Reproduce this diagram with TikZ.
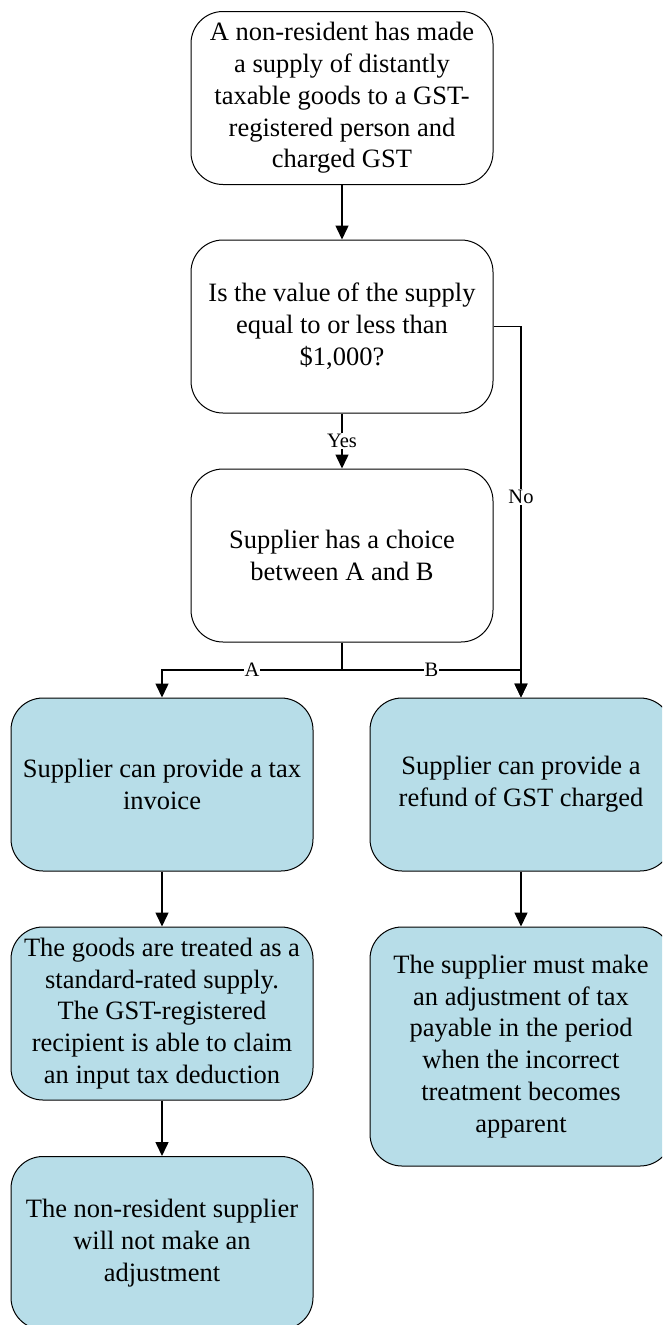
\documentclass[tikz,border=0pt]{standalone}
\usepackage{fontspec}
\setmainfont{Liberation Serif}
\usetikzlibrary{arrows.meta}
\definecolor{boxblue}{HTML}{B7DDE8}
\begin{document}
\begin{tikzpicture}[x=1pt, y=-1pt,
		box/.style={draw, line width=1pt, rounded corners=32pt, minimum width=302pt, minimum height=173pt, inner sep=0pt, align=center, font=\fontsize{26.5}{31.8}\selectfont},
		bluebox/.style={box, fill=boxblue},
		arr/.style={line width=1.5pt, -{Triangle[length=14pt, width=13pt]}},
		lbl/.style={fill=white, inner sep=1pt, font=\fontsize{20.5}{24}\selectfont}]
				\clip (0, 0) rectangle (662, 1325);

				\node[box] (start) at (342, 98) {A non-resident has made\\a supply of distantly\\taxable goods to a GST-\\registered person and\\charged GST};
				\node[box] (value) at (342, 326.5) {Is the value of the supply\\equal to or less than\\\$1,000?};
				\node[box] (choice) at (342, 555.5) {Supplier has a choice\\between A and B};

				\node[bluebox] (invoice) at (162, 784.5) {Supplier can provide a tax\\invoice};
				\node[bluebox] (refund) at (521, 784.5) {Supplier can provide a\\refund of GST charged};
				\node[bluebox] (standard) at (162, 1013.5) {The goods are treated as a\\standard-rated supply.\\The GST-registered\\recipient is able to claim\\an input tax deduction};
				\node[bluebox, minimum height=239pt] (adjust) at (521, 1046.5) {The supplier must make\\an adjustment of tax\\payable in the period\\when the incorrect\\treatment becomes\\apparent};
				\node[bluebox] (noadjust) at (162, 1243) {The non-resident supplier\\will not make an\\adjustment};

				\coordinate (split) at (342, 670);

				\draw[arr] (start) -- (value);
				\draw[arr] (value) -- node[lbl] {Yes} (choice);
				\draw[arr] (value.east) -| node[lbl, pos=0.73] {No} (refund.north);
				\draw[line width=1.5pt] (choice.south) -- (split);
				\draw[arr] (split) -| node[lbl, pos=0.25] {A} (invoice.north);
				\draw[arr] (split) -| node[lbl, pos=0.25] {B} (refund.north);
				\draw[arr] (invoice) -- (standard);
				\draw[arr] (refund) -- (adjust);
				\draw[arr] (standard) -- (noadjust);
			\end{tikzpicture}
\end{document}
